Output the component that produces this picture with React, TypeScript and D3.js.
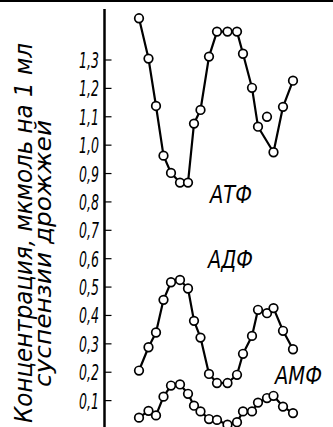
import * as d3 from 'd3';

// time points (arbitrary units, shared by all three series)
const times = [0, 9.5, 17, 24.5, 32, 41, 49, 55, 61.5, 70, 78, 88.5, 98, 104, 113, 119, 128, 134.5, 144, 154];

const atp = [1.447, 1.305, 1.138, 0.963, 0.902, 0.868, 0.868, 1.076, 1.124, 1.312, 1.4, 1.4, 1.4, 1.322, 1.202, 1.065, 1.1, 0.975, 1.135, 1.227];
// index of the ATP point that is drawn but not joined by the line
const atpOutlier = 16;
const adp = [0.206, 0.288, 0.34, 0.455, 0.517, 0.525, 0.495, 0.381, 0.322, 0.194, 0.162, 0.162, 0.191, 0.265, 0.328, 0.42, 0.408, 0.426, 0.346, 0.281];
const amp = [0.04, 0.064, 0.048, 0.114, 0.153, 0.157, 0.124, 0.082, 0.062, 0.035, 0.032, 0.015, 0.024, 0.062, 0.062, 0.093, 0.109, 0.117, 0.079, 0.056];

const yTicks = [0.1, 0.2, 0.3, 0.4, 0.5, 0.6, 0.7, 0.8, 0.9, 1.0, 1.1, 1.2, 1.3];

const W = 333;
const H = 427;
const axisX = 104.5;

const x = d3.scaleLinear().domain([0, 154]).range([139, 293]);
const y = d3.scaleLinear().domain([0, 1.3]).range([429, 60]);

const fmt = (v: number) => v.toFixed(1).replace('.', ',');
const font = '"DejaVu Sans", sans-serif';

const Series: React.FC<{ values: number[]; skip?: number }> = ({ values, skip }) => {
  const pts = values.map((v, i) => ({ t: times[i], v, i }));
  const line = d3
    .line<{ t: number; v: number; i: number }>()
    .x((d) => x(d.t))
    .y((d) => y(d.v));
  const joined = pts.filter((d) => d.i !== skip);
  return (
    <g>
      <path d={line(joined) || ''} fill="none" stroke="#000" strokeWidth={2.2} strokeLinejoin="round" />
      {pts.map((d) => (
        <circle key={d.i} cx={x(d.t)} cy={y(d.v)} r={4.3} fill="#fff" stroke="#000" strokeWidth={1.7} />
      ))}
    </g>
  );
};

const App: React.FC = () => {
  return (
    <svg
      width={W}
      height={H}
      style={{ position: 'absolute', left: 0, top: 0, background: '#fff' }}
    >
      <rect x={0} y={0} width={W} height={H} fill="#fff" />
      {/* frame fragment on top */}
      <line x1={0} x2={W} y1={1} y2={1} stroke="#000" strokeWidth={2} />

      {/* y axis */}
      <line x1={axisX} x2={axisX} y1={9} y2={H} stroke="#000" strokeWidth={2.5} />
      {yTicks.map((t) => (
        <g key={t}>
          <line x1={axisX} x2={axisX + 7} y1={y(t)} y2={y(t)} stroke="#000" strokeWidth={1.2} />
          <text
            x={99}
            y={y(t) + 8}
            textAnchor="end"
            fontFamily={font}
            fontStyle="italic"
            fontSize={22}
            textLength={20}
            lengthAdjust="spacingAndGlyphs"
          >
            {fmt(t)}
          </text>
        </g>
      ))}

      {/* axis title */}
      <text
        transform="translate(32,423) rotate(-90)"
        fontFamily={font}
        fontStyle="italic"
        fontSize={24}
        textLength={380}
        lengthAdjust="spacingAndGlyphs"
      >
        Концентрация, мкмоль на 1 мл
      </text>
      <text
        transform="translate(51,387) rotate(-90)"
        fontFamily={font}
        fontStyle="italic"
        fontSize={23}
        textLength={267}
        lengthAdjust="spacingAndGlyphs"
      >
        суспензии дрожжей
      </text>

      <Series values={atp} skip={atpOutlier} />
      <Series values={adp} />
      <Series values={amp} />

      {/* series labels */}
      <text x={210} y={203} fontFamily={font} fontStyle="italic" fontSize={24} textLength={42} lengthAdjust="spacingAndGlyphs">
        АТФ
      </text>
      <text x={208} y={268} fontFamily={font} fontStyle="italic" fontSize={24} textLength={45} lengthAdjust="spacingAndGlyphs">
        АДФ
      </text>
      <text x={275} y={384} fontFamily={font} fontStyle="italic" fontSize={24} textLength={47} lengthAdjust="spacingAndGlyphs">
        АМФ
      </text>
    </svg>
  );
};

export default App;
